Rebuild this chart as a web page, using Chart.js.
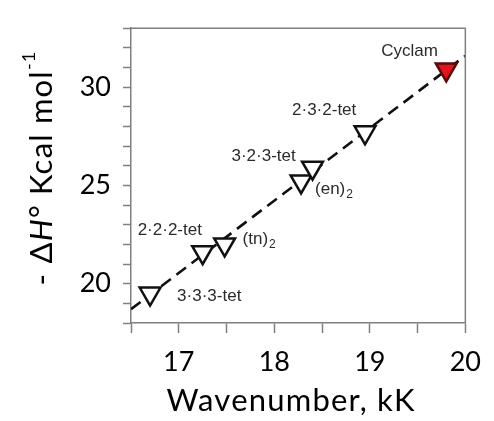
<!DOCTYPE html>
<html>
<head>
<meta charset="utf-8">
<script src="https://cdn.jsdelivr.net/npm/chart.js@4.4.1/dist/chart.umd.min.js"></script>
<style>
  html, body { margin: 0; padding: 0; background: #fff; }
  #wrap { width: 494px; height: 421px; }
</style>
</head>
<body>
<div id="wrap"><canvas id="chart"></canvas></div>
<script>
// Ni(II) tetraamine complexes: d-d band position vs. enthalpy of formation
var ligands = ['3·3·3-tet', '2·2·2-tet', '(tn)2', '(en)2', '3·2·3-tet', '2·3·2-tet', 'Cyclam'];
var wavenumber = [16.70, 17.25, 17.48, 18.28, 18.40, 18.95, 19.80];
var enthalpy = [19.5, 21.6, 22.0, 25.2, 25.9, 27.7, 30.9];
// end points of the fitted line
var fitX = [16.5, 20];
var fitY = [18.7, 31.6];
var xTicks = [17, 18, 19, 20];
var yTicks = [20, 25, 30];

// where each label sits relative to its marker (px: left edge, baseline)
var labelOffsets = [[27, 7], [-65, -17], [18, 0], [14, 13], [-81, -7], [-73, -17], [-65, -13]];

var axisGrey = '#7f7f7f';
var tickFont = { family: 'Lato', size: 27 };
var titleFont = '31px Lato';

function isTick(list, v) {
  for (var i = 0; i < list.length; i++) {
    if (Math.abs(list[i] - v) < 1e-6) return true;
  }
  return false;
}

var frame = {
  id: 'frame',
  afterDraw: function(chart) {
    var a = chart.chartArea, ctx = chart.ctx;
    ctx.save();
    ctx.strokeStyle = axisGrey;
    ctx.lineWidth = 1.5;
    ctx.beginPath();
    ctx.moveTo(a.left, a.top);
    ctx.lineTo(a.right, a.top);
    ctx.lineTo(a.right, a.bottom);
    ctx.stroke();
    ctx.restore();
  }
};

var pointLabels = {
  id: 'pointLabels',
  afterDatasetsDraw: function(chart) {
    var ctx = chart.ctx, xs = chart.scales.x, ys = chart.scales.y;
    ctx.save();
    ctx.fillStyle = '#2b2b2b';
    ctx.textBaseline = 'alphabetic';
    ctx.textAlign = 'left';
    for (var i = 0; i < ligands.length; i++) {
      var px = xs.getPixelForValue(wavenumber[i]) + labelOffsets[i][0];
      var py = ys.getPixelForValue(enthalpy[i]) + labelOffsets[i][1];
      var m = ligands[i].match(/^(\(.+\))(\d)$/);
      ctx.font = '17px "Liberation Sans"';
      if (m) {
        ctx.fillText(m[1], px, py);
        var w = ctx.measureText(m[1]).width;
        ctx.font = '12px "Liberation Sans"';
        ctx.fillText(m[2], px + w + 1, py + 4);
      } else {
        ctx.fillText(ligands[i], px, py);
      }
    }
    ctx.restore();
  }
};

var axisTitles = {
  id: 'axisTitles',
  afterDraw: function(chart) {
    var ctx = chart.ctx, a = chart.chartArea;
    ctx.save();
    ctx.fillStyle = '#000';
    ctx.textBaseline = 'alphabetic';
    ctx.textAlign = 'center';
    ctx.letterSpacing = '1.2px';
    ctx.font = titleFont;
    ctx.fillText('Wavenumber, kK', (a.left + a.right) / 2 - 7, 411);

    // y title, rotated, with italic H and superscript -1
    var parts = [
      { t: '- Δ', f: titleFont, dy: 0 },
      { t: 'H', f: 'italic ' + titleFont, dy: 0 },
      { t: '° Kcal mol', f: titleFont, dy: 0 },
      { t: '-1', f: '18px Lato', dy: -17 }
    ];
    var total = 0;
    parts.forEach(function(p) { ctx.font = p.f; p.w = ctx.measureText(p.t).width; total += p.w; });
    ctx.translate(52, 168);
    ctx.rotate(-Math.PI / 2);
    ctx.textAlign = 'left';
    var x = -total / 2;
    parts.forEach(function(p) {
      ctx.font = p.f;
      ctx.fillText(p.t, x, p.dy);
      x += p.w;
    });
    ctx.restore();
  }
};

new Chart(document.getElementById('chart'), {
  type: 'scatter',
  data: {
    datasets: [{
      label: 'complexes',
      data: wavenumber.map(function(v, i) { return { x: v, y: enthalpy[i] }; }),
      pointStyle: 'triangle',
      rotation: 180,
      pointRadius: 12,
      borderWidth: 2.5,
      backgroundColor: function(c) { return ligands[c.dataIndex] === 'Cyclam' ? '#e3141f' : '#fff'; },
      borderColor: function(c) { return ligands[c.dataIndex] === 'Cyclam' ? '#5a0a0a' : '#111'; },
      order: 0
    }, {
      label: 'fit',
      data: fitX.map(function(v, i) { return { x: v, y: fitY[i] }; }),
      showLine: true,
      pointRadius: 0,
      borderColor: '#111',
      borderWidth: 2.6,
      borderDash: [12, 7],
      order: 1
    }]
  },
  options: {
    responsive: true,
    maintainAspectRatio: false,
    animation: false,
    events: [],
    layout: { padding: { top: 17, right: 25, left: 0, bottom: 0 } },
    plugins: { legend: { display: false }, tooltip: { enabled: false } },
    scales: {
      x: {
        type: 'linear',
        min: 16.5,
        max: 20,
        afterFit: function(s) { s.height = 98; },
        afterBuildTicks: function(s) {
          var t = [];
          for (var v = 16.5; v <= 20.001; v += 0.5) t.push({ value: v });
          s.ticks = t;
        },
        ticks: {
          autoSkip: false,
          maxRotation: 0,
          padding: 13,
          color: '#000',
          font: tickFont,
          callback: function(v) { return isTick(xTicks, v) ? String(v) : ''; }
        },
        grid: { display: true, drawOnChartArea: false, tickLength: 10, tickWidth: 1.5, tickColor: axisGrey },
        border: { display: true, color: axisGrey, width: 1.5 }
      },
      y: {
        type: 'linear',
        min: 18,
        max: 33,
        afterFit: function(s) { s.width = 131; },
        afterBuildTicks: function(s) {
          var t = [];
          for (var v = 18; v <= 33; v += 1) t.push({ value: v });
          s.ticks = t;
        },
        ticks: {
          autoSkip: false,
          padding: 12,
          color: '#000',
          font: tickFont,
          callback: function(v) { return isTick(yTicks, v) ? String(v) : ''; }
        },
        grid: { display: true, drawOnChartArea: false, tickLength: 8, tickWidth: 1.5, tickColor: axisGrey },
        border: { display: true, color: axisGrey, width: 1.5 }
      }
    }
  },
  plugins: [frame, pointLabels, axisTitles]
});
</script>
</body>
</html>
